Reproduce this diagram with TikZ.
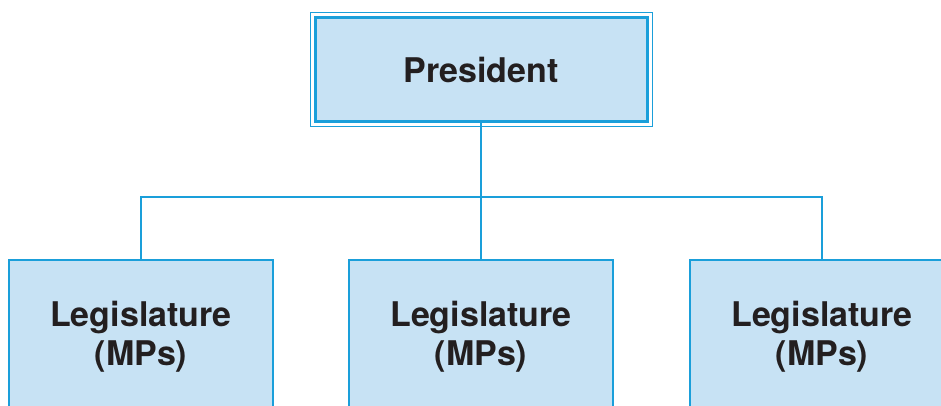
\documentclass[tikz,border=0pt]{standalone}
\usepackage{fontspec}
\setmainfont{TeX Gyre Heros}
\definecolor{lineblue}{HTML}{1A9FDA}
\definecolor{fillblue}{HTML}{C7E2F4}
\definecolor{textdark}{HTML}{231F20}
\begin{document}
\begin{tikzpicture}[x=1pt,y=-1pt,
  presbox/.style={draw=lineblue, fill=fillblue, line width=3pt, minimum width=332pt, minimum height=104pt, inner sep=0pt},
  outerline/.style={draw=lineblue, line width=1pt},
  lbox/.style={draw=lineblue, fill=fillblue, line width=1.6pt, minimum width=264pt, minimum height=230pt, anchor=north, inner sep=0pt},
  btext/.style={text=textdark, font=\bfseries\fontsize{34}{39}\selectfont, align=center, inner sep=0pt},
  conn/.style={draw=lineblue, line width=2.8pt}]
\useasboundingbox (0,0) rectangle (941,405);
\clip (0,0) rectangle (941,405);
\fill[white] (0,0) rectangle (941,405);
% boxes
\node[presbox] (pres) at (481,69) {};
\draw[outerline] ([xshift=-3.5pt,yshift=3.5pt]pres.north west) rectangle ([xshift=3.5pt,yshift=-3.5pt]pres.south east);
\node[btext] (prest) at (481,70) {President};
\node[lbox] (l1) at (141,259) {};
\node[lbox] (l2) at (481,259) {};
\node[lbox] (l3) at (822,259) {};
\node[btext] (t1) at (141,337) {Legislature\\(MPs)};
\node[btext] (t2) at (481,337) {Legislature\\(MPs)};
\node[btext] (t3) at (822,337) {Legislature\\(MPs)};
% connectors
\coordinate (bus) at (481,197);
\draw[conn] (pres.south) -- (l2.north);
\draw[conn] (l1.north) |- (bus) -| (l3.north);
\end{tikzpicture}
\end{document}
